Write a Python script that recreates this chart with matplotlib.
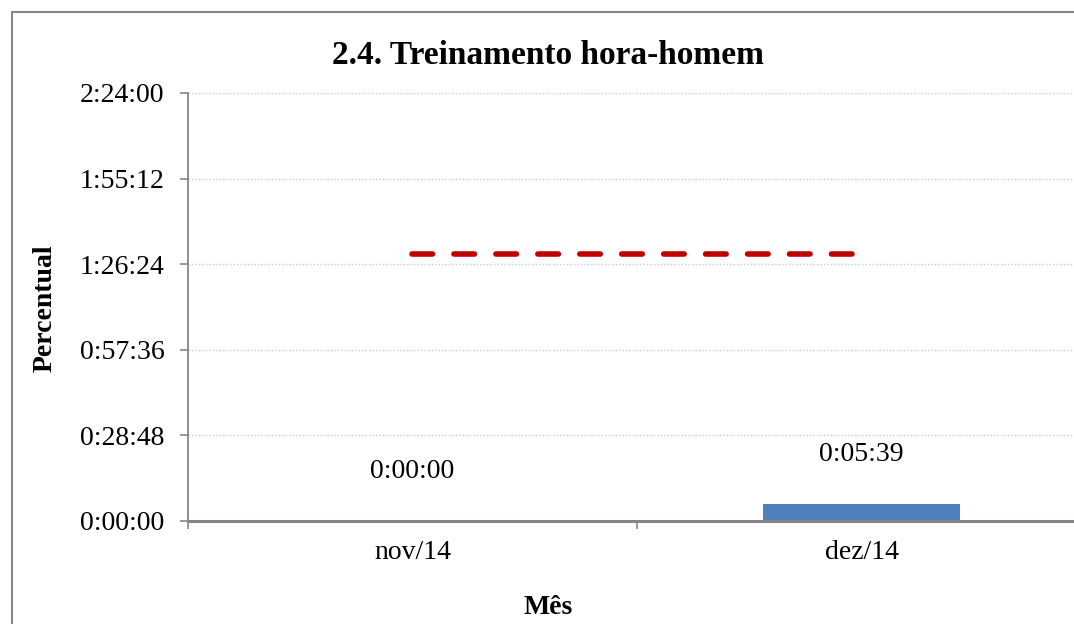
import matplotlib
matplotlib.use('Agg')
import matplotlib.pyplot as plt
import matplotlib.patches as mpatches
from matplotlib.ticker import FuncFormatter, FixedLocator

# dados (segundos)
meses = ["nov/14", "dez/14"]
horas = [0, 5 * 60 + 39]
meta = [90 * 60, 90 * 60]
y_ticks = [0, 1728, 3456, 5184, 6912, 8640]


def hms(v, pos=None):
    v = int(round(v))
    return f"{v // 3600}:{(v % 3600) // 60:02d}:{v % 60:02d}"


plt.rcParams['font.family'] = ['Liberation Serif', 'DejaVu Serif']

fig = plt.figure(figsize=(10.74, 6.24), dpi=100)
ax = fig.add_axes([188 / 1074, 103 / 624, 898 / 1074, 428 / 624])

gray = "#868686"
x = list(range(len(meses)))
ax.bar(x, horas, width=0.44, color="#4f81bd", zorder=3)
ax.plot(x, meta, color="#c00000", linewidth=4, dashes=(3.7, 3.85),
        dash_capstyle="round", zorder=4)

for xi, v in zip(x, horas):
    ax.annotate(hms(v), (xi, v), xytext=(0, 27), textcoords="offset points",
                ha="center", va="bottom", fontsize=20)

ax.set_xlim(-0.5, 1.5)
ax.set_ylim(0, 8640)
ax.yaxis.set_major_locator(FixedLocator(y_ticks))
ax.yaxis.set_major_formatter(FuncFormatter(hms))
ax.set_xticks([-0.5, 0.5, 1.5])
ax.set_xticklabels([])
ax.set_xticks(x, minor=True)
ax.set_xticklabels(meses, minor=True)
ax.tick_params(axis="x", which="minor", length=0, pad=14, labelsize=20)
ax.tick_params(axis="x", which="major", length=6, color=gray, width=1.2)
ax.tick_params(axis="y", length=6, color=gray, width=1.2, labelsize=20, pad=11)

ax.grid(axis="y", color="#c8c8c8", linestyle=(0, (1, 1.5)), linewidth=1, zorder=0)
for s in ["top", "right"]:
    ax.spines[s].set_visible(False)
ax.spines["left"].set_color(gray)
ax.spines["left"].set_linewidth(1.3)
ax.spines["bottom"].set_color(gray)
ax.spines["bottom"].set_linewidth(2.2)
ax.spines["bottom"].set_zorder(5)

fig.text(45 / 1074, 1 - 308 / 624, "Percentual", ha="center", va="center",
         rotation=90, fontsize=20, fontweight="bold")
fig.text(548 / 1074, 1 - 607 / 624, "Mês", ha="center", va="center",
         fontsize=20, fontweight="bold")
fig.text(548 / 1074, 1 - 56 / 624, "2.4. Treinamento hora-homem", ha="center",
         va="center", fontsize=24, fontweight="bold")

fig.patches.append(mpatches.Rectangle((12 / 1074, -0.1), 1.2, 1.1 - 12 / 624,
                                      transform=fig.transFigure, fill=False,
                                      edgecolor=gray, linewidth=1.5))

fig.savefig("out.png", dpi=100)
